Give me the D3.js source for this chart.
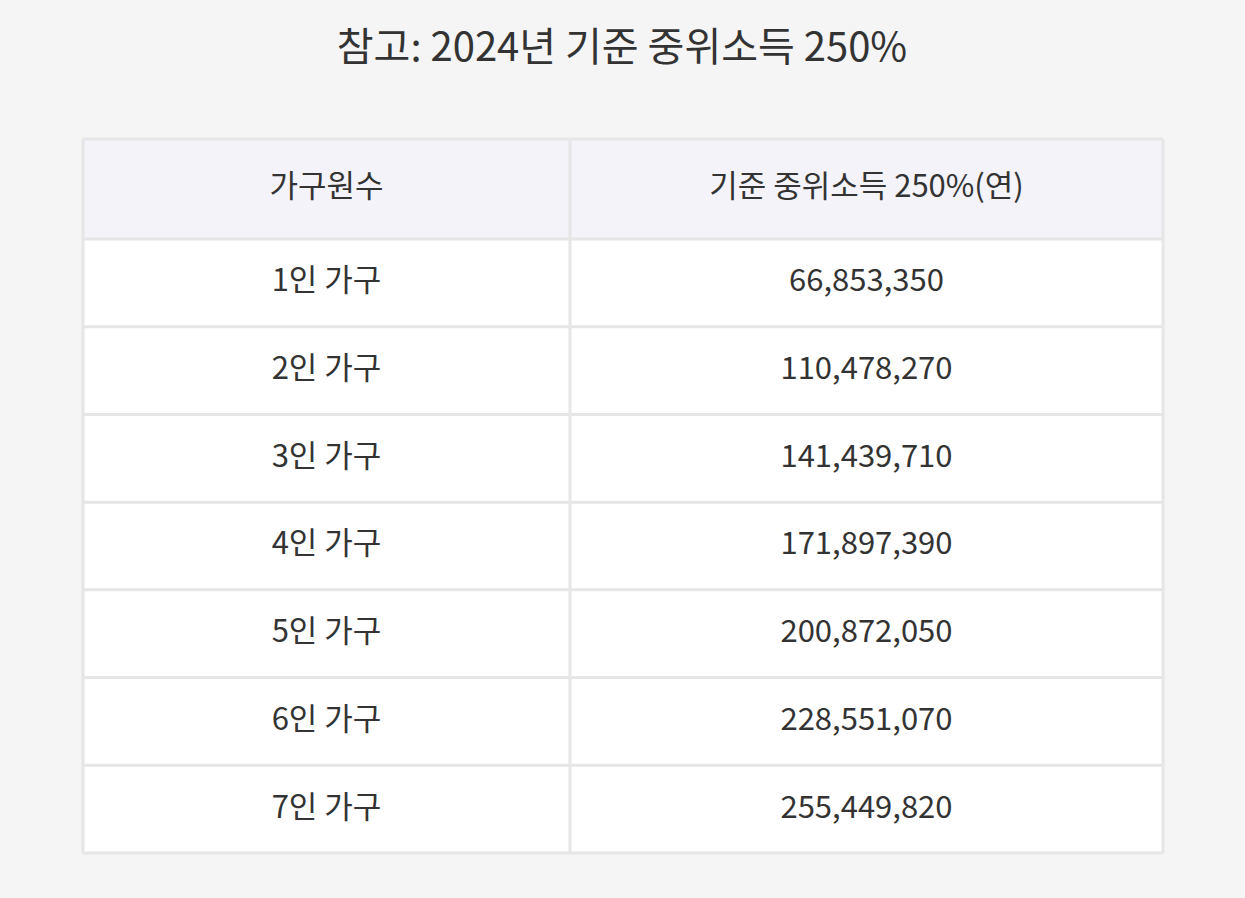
<!DOCTYPE html>
<html><head><meta charset="utf-8">
<script src="https://cdn.jsdelivr.net/npm/d3@7"></script>
<style>body{margin:0;background:#f5f5f5;}</style>
</head><body>
<script>
const title = "참고: 2024년 기준 중위소득 250%";
const headers = ["가구원수", "기준 중위소득 250%(연)"];
const households = ["1인 가구","2인 가구","3인 가구","4인 가구","5인 가구","6인 가구","7인 가구"];
const incomes = [66853350,110478270,141439710,171897390,200872050,228551070,255449820];

(function(){
const W=1245,H=898;
const svg=d3.select("body").append("svg").attr("width",W).attr("height",H);
svg.append("rect").attr("width",W).attr("height",H).attr("fill","#f5f5f5");
const font="'Noto Sans CJK KR','Noto Sans',sans-serif";
svg.append("text").attr("x",622).attr("y",50).attr("text-anchor","middle").attr("dominant-baseline","middle")
 .attr("font-family",font).attr("font-size",40).attr("fill","#333").text(title);

const x0=83,x1=1163,xm=570, tTop=139, headBottom=239, tBottom=853;
const y=d3.scaleBand().domain(households).range([headBottom,tBottom]);
const fmt=d3.format(",");
svg.append("rect").attr("x",x0).attr("y",tTop).attr("width",x1-x0).attr("height",headBottom-tTop).attr("fill","#f3f3f9");
svg.append("rect").attr("x",x0).attr("y",headBottom).attr("width",x1-x0).attr("height",tBottom-headBottom).attr("fill","#fff");
const hc=[(x0+xm)/2,(xm+x1)/2];
headers.forEach((h,i)=>svg.append("text").attr("x",hc[i]).attr("y",(tTop+headBottom)/2).attr("text-anchor","middle")
 .attr("dominant-baseline","middle").attr("font-family",font).attr("font-size",31).attr("fill","#333").text(h));
const rows=svg.selectAll("g.r").data(households).join("g");
rows.append("text").attr("x",hc[0]).attr("y",d=>y(d)+y.bandwidth()/2).attr("text-anchor","middle").attr("dominant-baseline","middle")
 .attr("font-family",font).attr("font-size",31).attr("fill","#333").text(d=>d);
rows.append("text").attr("x",hc[1]).attr("y",d=>y(d)+y.bandwidth()/2).attr("text-anchor","middle").attr("dominant-baseline","middle")
 .attr("font-family",font).attr("font-size",31).attr("fill","#333").text((d,i)=>fmt(incomes[i]));
const st="#e6e6e6", sw=3;
[tTop,headBottom,...households.map(d=>y(d)+y.bandwidth())].forEach(v=>
 svg.append("line").attr("x1",x0).attr("x2",x1).attr("y1",v).attr("y2",v).attr("stroke",st).attr("stroke-width",sw));
[x0,xm,x1].forEach(v=>svg.append("line").attr("x1",v).attr("x2",v).attr("y1",tTop).attr("y2",tBottom).attr("stroke",st).attr("stroke-width",sw));
})();
</script>
</body></html>
